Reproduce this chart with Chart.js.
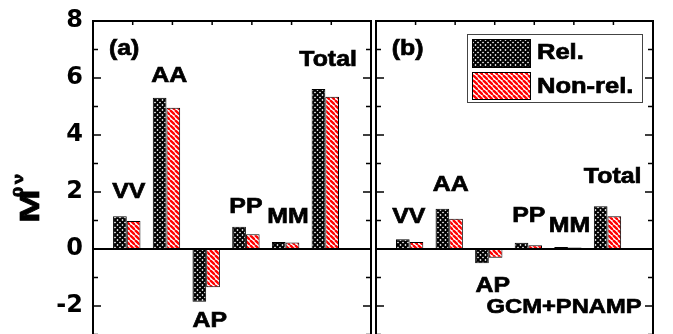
<!DOCTYPE html>
<html>
<head>
<meta charset="utf-8">
<script src="https://cdn.jsdelivr.net/npm/chart.js@4.4.0/dist/chart.umd.min.js"></script>
<style>
    html, body { margin: 0; padding: 0; background: #fff; overflow: hidden; }
    #wrap { position: relative; width: 673px; height: 334px; overflow: hidden; }
    #chartA { position: absolute; left: 0; top: 0; }
    #chartB { position: absolute; left: 373px; top: 0; }
</style>
</head>
<body>
<div id="wrap">
    <canvas id="chartA" width="373" height="383"></canvas>
    <canvas id="chartB" width="300" height="383"></canvas>
</div>
<script>
const categories = ['VV', 'AA', 'AP', 'PP', 'MM', 'Total']
const seriesNames = ['Rel.', 'Non-rel.']

// panel (a)
const relA = [1.15, 5.31, -1.85, 0.78, 0.25, 5.61]
const nonRelA = [0.98, 4.96, -1.34, 0.52, 0.23, 5.34]

// panel (b), GCM+PNAMP
const relB = [0.34, 1.41, -0.50, 0.22, 0.07, 1.50]
const nonRelB = [0.25, 1.06, -0.31, 0.13, 0.05, 1.15]

const yLabels = [-2, 0, 2, 4, 6, 8]

// where the category names are written, in axis units [x, y]
const namePosA = [[0.90, 1.79], [1.92, 5.86], [2.94, -2.74], [3.85, 1.26], [4.91, 0.91], [5.92, 6.42]]
const namePosB = [[0.83, 0.91], [1.89, 2.04], [2.95, -1.51], [3.86, 0.95], [4.89, 0.60], [5.98, 2.32]]

const GROUP_X = 0.85
const STRETCH = 1.13
const FONT = '"Liberation Sans", Arial, sans-serif'

const makeTile = (size, paint) => {
    const c = document.createElement('canvas')
    c.width = c.height = size
    const g = c.getContext('2d')
    g.fillStyle = '#fff'
    g.fillRect(0, 0, size, size)
    paint(g, size)
    return g.createPattern(c, 'repeat')
}

const crossHatch = makeTile(5, (g, s) => {
    g.strokeStyle = '#000'
    g.lineWidth = 2.0
    for (const o of [-s, 0, s]) {
        g.beginPath(); g.moveTo(o, 0); g.lineTo(o + s, s); g.stroke()
        g.beginPath(); g.moveTo(o + s, 0); g.lineTo(o, s); g.stroke()
    }
})

const redStripes = makeTile(5, (g, s) => {
    g.strokeStyle = '#ff0000'
    g.lineWidth = 2.3
    for (const o of [-s, 0, s]) {
        g.beginPath(); g.moveTo(o, 0); g.lineTo(o + s, s); g.stroke()
    }
})

const fills = [crossHatch, redStripes]

const text = (ctx, str, x, y, align = 'center', size = 22, sx = STRETCH) => {
    ctx.save()
    ctx.translate(x, y)
    ctx.scale(sx, 1)
    ctx.font = `bold ${size}px ${FONT}`
    ctx.textAlign = align
    ctx.textBaseline = 'alphabetic'
    ctx.fillStyle = '#000'
    ctx.strokeStyle = '#000'
    ctx.lineWidth = 0.7
    ctx.fillText(str, 0, 0)
    ctx.strokeText(str, 0, 0)
    ctx.restore()
}

// frame, inward ticks, zero line and the written labels of one panel
const panelDecor = (cfg) => ({
    id: 'panelDecor',
    afterDraw(chart) {
        const { ctx, chartArea: a, scales: { x, y } } = chart
        ctx.save()
        ctx.strokeStyle = '#000'

        ctx.lineWidth = 1.5
        ctx.beginPath()
        for (let v = -4; v <= 8; v++) {
            const py = y.getPixelForValue(v)
            const len = v % 2 === 0 ? 8 : 5
            ctx.moveTo(a.left, py); ctx.lineTo(a.left + len, py)
            ctx.moveTo(a.right, py); ctx.lineTo(a.right - len, py)
        }
        for (let i = 1; i <= 6; i++) {
            const px = x.getPixelForValue(i)
            ctx.moveTo(px, a.top); ctx.lineTo(px, a.top + 4)
        }
        ctx.stroke()

        ctx.lineWidth = 2
        const y0 = y.getPixelForValue(0)
        ctx.beginPath()
        ctx.moveTo(a.left, y0); ctx.lineTo(a.right, y0)
        ctx.stroke()
        ctx.strokeRect(a.left, a.top, a.right - a.left, a.bottom - a.top)

        categories.forEach((c, i) => {
            const [nx, ny] = cfg.names[i]
            text(ctx, c, x.getPixelForValue(nx), y.getPixelForValue(ny))
        })
        text(ctx, cfg.tag, x.getPixelForValue(0.40), y.getPixelForValue(6.81), 'left')

        if (cfg.note) {
            text(ctx, cfg.note, x.getPixelForValue(6.71), y.getPixelForValue(-2.25), 'right', 21)
        }

        if (cfg.legend) {
            const bx = a.right - 186, by = a.top + 13, bw = 175, bh = 68
            ctx.lineWidth = 1
            ctx.strokeStyle = '#444'
            ctx.strokeRect(bx + 0.5, by + 0.5, bw, bh)
            const rows = [[by + 5, 29, by + 25], [by + 38, 28, by + 59]]
            chart.data.datasets.forEach((ds, i) => {
                const [sy, sh, base] = rows[i]
                ctx.fillStyle = '#000'
                ctx.fillRect(bx + 5, sy, 59, sh)
                ctx.fillStyle = ds.backgroundColor
                ctx.fillRect(bx + 6, sy + 1, 57, sh - 2)
                text(ctx, ds.label, bx + 70, base, 'left', 22, 1.16)
            })
        }

        if (cfg.yTitle) {
            ctx.translate(39, 223)
            ctx.rotate(-Math.PI / 2)
            text(ctx, 'M', 0, 0, 'left', 27, 1.5)
            text(ctx, '0', 26, -16, 'left', 14, 1.3)
            text(ctx, 'ν', 39, -16, 'left', 14, 1.3)
        }
        ctx.restore()
    }
})

const makeData = (rel, nonRel) => ({
    datasets: [rel, nonRel].map((vals, k) => ({
        label: seriesNames[k],
        data: vals.map((v, i) => ({ x: i + GROUP_X, y: v })),
        backgroundColor: fills[k],
        borderColor: '#000',
        borderWidth: 1,
        borderSkipped: false,
        inflateAmount: 0,
        categoryPercentage: 0.69,
        barPercentage: 1.0
    }))
})

const makeOptions = (showY, padding) => ({
    responsive: false,
    animation: false,
    devicePixelRatio: 1,
    layout: { padding },
    plugins: {
        legend: { display: false },
        tooltip: { enabled: false }
    },
    scales: {
        x: {
            type: 'linear',
            min: 0,
            max: 7,
            offset: false,
            display: false,
            grid: { offset: false },
            ticks: { stepSize: 1 }
        },
        y: {
            min: -4,
            max: 8,
            display: showY,
            grid: { display: false, drawTicks: false },
            border: { display: false },
            ticks: {
                stepSize: 1,
                autoSkip: false,
                padding: 10,
                color: '#000',
                font: { family: 'DejaVu Sans', weight: 'bold', size: 24, lineHeight: 0.8 },
                callback: v => yLabels.includes(v) ? String(v) : ''
            },
            afterFit: s => { if (showY) s.width = 93 }
        }
    }
})

const chartA = new Chart(document.getElementById('chartA'), {
    type: 'bar',
    data: makeData(relA, nonRelA),
    options: makeOptions(true, { left: 0, right: 2, top: 21, bottom: 20 }),
    plugins: [panelDecor({ names: namePosA, tag: '(a)', yTitle: true })]
})

const chartB = new Chart(document.getElementById('chartB'), {
    type: 'bar',
    data: makeData(relB, nonRelB),
    options: makeOptions(false, { left: 3, right: 20, top: 21, bottom: 20 }),
    plugins: [panelDecor({ names: namePosB, tag: '(b)', note: 'GCM+PNAMP', legend: true })]
})
</script>
</body>
</html>
